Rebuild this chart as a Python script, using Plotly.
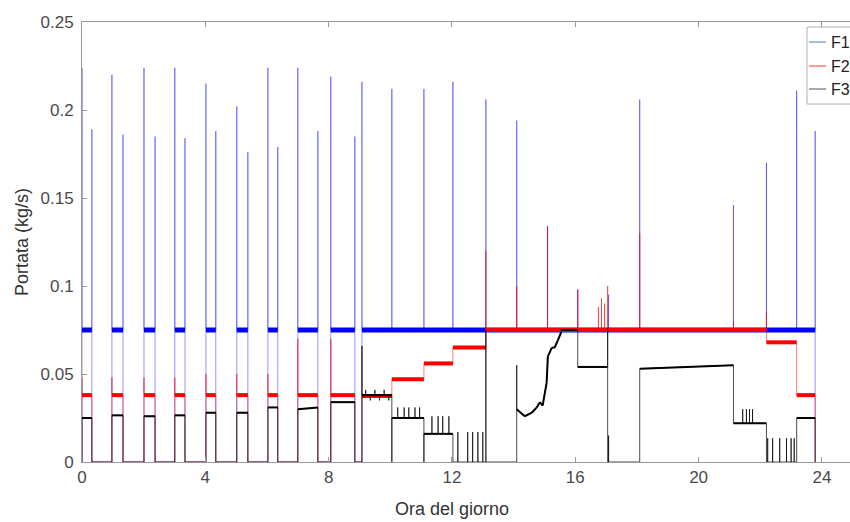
import plotly.graph_objects as go

# ---------------- data ----------------
series_names = ["F1", "F2", "F3"]
x_tick_vals = [0, 4, 8, 12, 16, 20, 24]
y_tick_vals = [0, 0.05, 0.1, 0.15, 0.2, 0.25]
y_tick_text = ["0", "0.05", "0.1", "0.15", "0.2", "0.25"]

# F1 (blue): operating periods (start h, end h, value at start, value at end)
f1_seg_start = [0.00, 0.97, 2.01, 3.01, 4.02, 5.02, 6.03, 7.00, 8.07, 9.08]
f1_seg_end   = [0.32, 1.33, 2.37, 3.34, 4.34, 5.38, 6.35, 7.65, 8.85, 23.78]
f1_seg_v0    = [0.075, 0.075, 0.075, 0.075, 0.075, 0.075, 0.075, 0.075, 0.075, 0.075]
f1_seg_v1    = [0.075, 0.075, 0.075, 0.075, 0.075, 0.075, 0.075, 0.075, 0.075, 0.075]
f1_spike_t = [0.00, 0.32, 0.97, 1.33, 2.01, 2.37, 3.01, 3.34, 4.02, 4.34, 5.02, 5.38,
              6.03, 6.35, 7.00, 7.65, 8.07, 8.85, 9.08, 10.05, 11.09, 12.03, 13.10,
              14.10, 15.10, 16.08, 17.08, 18.09, 21.13, 22.20, 23.18, 23.78]
f1_spike_v = [0.224, 0.189, 0.220, 0.186, 0.224, 0.185, 0.224, 0.184, 0.215, 0.188, 0.202, 0.176,
              0.224, 0.179, 0.224, 0.188, 0.219, 0.185, 0.216, 0.212, 0.212, 0.216, 0.206,
              0.194, 0.134, 0.098, 0.095, 0.206, 0.146, 0.170, 0.211, 0.188]

# F2 (red)
f2_seg_start = [0.00, 0.97, 2.01, 3.01, 4.02, 5.02, 6.03, 7.00, 8.07, 9.08, 10.05, 11.09,
                12.03, 13.10, 22.20, 23.18]
f2_seg_end   = [0.32, 1.33, 2.37, 3.34, 4.34, 5.38, 6.35, 7.65, 8.85, 10.05, 11.09, 12.03,
                13.10, 22.20, 23.18, 23.78]
f2_seg_v0    = [0.038, 0.038, 0.038, 0.038, 0.038, 0.038, 0.038, 0.038, 0.038, 0.0375, 0.047, 0.056,
                0.065, 0.075, 0.068, 0.038]
f2_seg_v1    = [0.038, 0.038, 0.038, 0.038, 0.038, 0.038, 0.038, 0.038, 0.038, 0.0375, 0.047, 0.056,
                0.065, 0.075, 0.068, 0.038]
f2_spike_t = [0.00, 0.97, 2.01, 3.01, 4.02, 5.02, 6.03, 7.00, 8.07, 13.10, 14.10, 15.10,
              16.08, 16.75, 16.85, 16.95, 17.05, 18.09, 21.13, 22.20]
f2_spike_v = [0.048, 0.048, 0.048, 0.048, 0.050, 0.050, 0.050, 0.070, 0.070, 0.120, 0.100, 0.134,
              0.098, 0.088, 0.093, 0.090, 0.100, 0.130, 0.080, 0.085]

# F3 (black)
f3_seg_start = [0.00, 0.97, 2.01, 3.01, 4.02, 5.02, 6.03, 7.00, 8.07, 9.08, 10.05, 11.09,
                14.10, 14.36, 14.59, 14.75, 14.85, 14.94, 15.07, 15.11, 15.24, 15.33, 15.43, 15.55,
                16.08, 18.09, 21.13, 23.18]
f3_seg_end   = [0.32, 1.33, 2.37, 3.34, 4.34, 5.38, 6.35, 7.65, 8.85, 10.05, 11.09, 12.03,
                14.36, 14.59, 14.75, 14.85, 14.94, 15.07, 15.11, 15.24, 15.33, 15.43, 15.55, 16.08,
                17.05, 21.13, 22.20, 23.78]
f3_seg_v0    = [0.025, 0.0265, 0.026, 0.0265, 0.028, 0.028, 0.031, 0.030, 0.034, 0.038, 0.025, 0.016,
                0.030, 0.026, 0.028, 0.031, 0.034, 0.032, 0.045, 0.060, 0.065, 0.065, 0.069, 0.075,
                0.054, 0.053, 0.022, 0.025]
f3_seg_v1    = [0.025, 0.0265, 0.026, 0.0265, 0.028, 0.028, 0.031, 0.031, 0.034, 0.038, 0.025, 0.016,
                0.026, 0.028, 0.031, 0.034, 0.032, 0.045, 0.060, 0.065, 0.065, 0.069, 0.074, 0.075,
                0.054, 0.055, 0.022, 0.025]
f3_spike_t = [9.08, 9.20, 9.35, 9.50, 9.65, 9.80, 9.95, 10.05, 10.24, 10.45, 10.60, 10.80, 10.95,
              11.09, 11.35, 11.55, 11.70, 11.90, 12.03, 12.19, 12.51, 12.67, 12.84, 13.00, 13.10,
              14.10, 17.05, 17.08, 21.43, 21.55, 21.65, 21.75,
              22.24, 22.40, 22.63, 22.85, 23.00, 23.10]
f3_spike_v = [0.066, 0.041, 0.035, 0.041, 0.035, 0.041, 0.035, 0.000, 0.031, 0.031, 0.031, 0.031, 0.031,
              0.000, 0.026, 0.026, 0.026, 0.026, 0.000, 0.017, 0.017, 0.017, 0.017, 0.017, 0.075,
              0.055, 0.076, 0.015, 0.030, 0.030, 0.030, 0.030,
              0.0135, 0.0135, 0.0135, 0.0135, 0.0135, 0.0135]

series_colors = ["#0000ff", "#ff0000", "#000000"]
thin_colors = ["rgba(0,0,255,0.42)", "rgba(255,0,0,0.5)", "rgba(0,0,0,0.7)"]
band_widths = [5, 4, 2]


def build_path(starts, ends, v0s, v1s, sp_t, sp_v):
    pts = []
    prev_end = 0.0
    for s, e, a, b in zip(starts, ends, v0s, v1s):
        if not pts:
            if s > 0:
                pts += [(0.0, 0.0), (s, 0.0)]
            else:
                pts += [(s, 0.0)]
        elif s > prev_end:
            pts += [(prev_end, 0.0), (s, 0.0)]
        pts += [(s, a), (e, b)]
        prev_end = e
    pts.append((prev_end, 0.0))
    for t, v in sorted(zip(sp_t, sp_v)):
        for i in range(len(pts) - 1):
            (ta, ya), (tb, yb) = pts[i], pts[i + 1]
            if ta == tb == t:
                pts.insert(i + 1, (t, v))
                break
            if ta < t < tb:
                pts[i + 1:i + 1] = [(t, ya), (t, v), (t, ya)]
                break
    return [p[0] for p in pts], [p[1] for p in pts]


def build_band(starts, ends, v0s, v1s):
    xs, ys = [], []
    for s, e, a, b in zip(starts, ends, v0s, v1s):
        xs += [s, e, None]
        ys += [a, b, None]
    return xs, ys


series = [
    (f1_seg_start, f1_seg_end, f1_seg_v0, f1_seg_v1, f1_spike_t, f1_spike_v),
    (f2_seg_start, f2_seg_end, f2_seg_v0, f2_seg_v1, f2_spike_t, f2_spike_v),
    (f3_seg_start, f3_seg_end, f3_seg_v0, f3_seg_v1, f3_spike_t, f3_spike_v),
]

fig = go.Figure()
for k, (st, en, a, b, spt, spv) in enumerate(series):
    px, py = build_path(st, en, a, b, spt, spv)
    fig.add_trace(go.Scatter(x=px, y=py, mode="lines", name=series_names[k],
                             legendgroup=series_names[k], showlegend=False,
                             line=dict(color=thin_colors[k], width=1)))
    bx, by = build_band(st, en, a, b)
    fig.add_trace(go.Scatter(x=bx, y=by, mode="lines", name=series_names[k],
                             legendgroup=series_names[k], showlegend=False,
                             line=dict(color=series_colors[k], width=band_widths[k])))

axis_col = "#9a9a9a"
fig.update_xaxes(range=[0, 24.91], tickvals=x_tick_vals, ticktext=[str(v) for v in x_tick_vals],
                 ticks="inside", ticklen=5, tickcolor=axis_col, showline=True, linecolor=axis_col,
                 linewidth=1, mirror="ticks", showgrid=False, zeroline=False,
                 tickfont=dict(size=17, color="#4a4a4a"))
fig.update_yaxes(range=[0, 0.25], tickvals=y_tick_vals, ticktext=y_tick_text,
                 ticks="inside", ticklen=5, tickcolor=axis_col, showline=True, linecolor=axis_col,
                 linewidth=1, showgrid=False, zeroline=False, ticklabelstandoff=4,
                 tickfont=dict(size=17, color="#4a4a4a"))

annotations = [
    dict(text="Ora del giorno", x=12, xref="x", y=-0.107, yref="paper", showarrow=False,
         xanchor="center", yanchor="middle", font=dict(size=18, color="#333333")),
    dict(text="Portata (kg/s)", x=-0.078, xref="paper", y=0.5, yref="paper", showarrow=False,
         textangle=-90, xanchor="center", yanchor="middle", font=dict(size=18, color="#333333")),
]
shapes = [dict(type="rect", xref="paper", yref="paper", x0=0.944, x1=1.05, y0=0.8136, y1=0.9886,
               line=dict(color="#b0b0b0", width=1), fillcolor="white", layer="above")]
legend_y = [0.9545, 0.9, 0.8477]
legend_line_colors = ["rgb(80,120,200)", "rgb(235,60,60)", "#555555"]
for k in range(3):
    shapes.append(dict(type="line", xref="paper", yref="paper", x0=0.9466, x1=0.9688,
                       y0=legend_y[k], y1=legend_y[k], line=dict(color=legend_line_colors[k], width=1),
                       layer="above"))
    annotations.append(dict(text=series_names[k], x=0.9727, xref="paper", y=legend_y[k], yref="paper",
                            showarrow=False, xanchor="left", yanchor="middle",
                            font=dict(size=16, color="#222222")))

fig.update_layout(width=850, height=522, margin=dict(l=82, r=0, t=22, b=60),
                  paper_bgcolor="white", plot_bgcolor="white", showlegend=False,
                  font=dict(family="Liberation Sans, Arial, sans-serif"),
                  annotations=annotations, shapes=shapes)

# remove the default page-body margin so the 850x522 figure fills the window exactly
fig.write_html("out.html", config={"displayModeBar": False},
               post_script="document.body.style.margin='0';document.body.style.overflow='hidden';")
